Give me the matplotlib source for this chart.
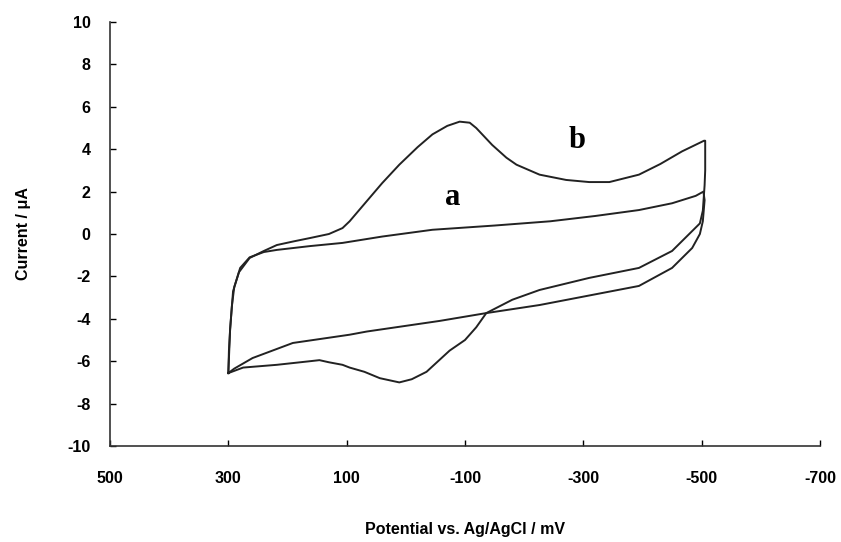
import matplotlib.pyplot as plt

plt.rcParams['font.family'] = ['Liberation Sans', 'DejaVu Sans']
plt.rcParams['axes.unicode_minus'] = False

# curve a: bare electrode (potential in mV, current in uA)
a_pot = [300, 297, 292, 280, 264, 240, 218, 162, 107, 40, -45, -150, -244,
         -320, -394, -450, -490, -503, -505, -502, -497, -484, -450, -394,
         -310, -226, -136, -57, 66, 95, 191, 259, 290, 300]
a_cur = [-6.56, -4.5, -2.7, -1.6, -1.1, -0.85, -0.75, -0.57, -0.42, -0.12,
         0.2, 0.4, 0.6, 0.85, 1.13, 1.45, 1.8, 2.0, 1.6, 0.6, 0.0, -0.66,
         -1.6, -2.45, -2.9, -3.35, -3.73, -4.1, -4.6, -4.75, -5.14, -5.85,
         -6.35, -6.56]

# curve b: modified electrode
b_pot = [300, 299, 297, 294, 290, 282, 264, 240, 218, 190, 162, 130, 107, 95,
         66, 40, 11, -20, -45, -70, -91, -108, -119, -146, -170, -187, -226,
         -271, -310, -344, -394, -430, -467, -504, -506, -506, -505, -502,
         -497, -484, -450, -394, -310, -226, -180, -136, -119, -100, -74, -35,
         -10, 11, 44, 70, 95, 107, 130, 146, 162, 218, 275, 300]
b_cur = [-6.56, -5.5, -4.5, -3.4, -2.5, -1.8, -1.13, -0.8, -0.52, -0.35,
         -0.19, 0.0, 0.28, 0.6, 1.55, 2.4, 3.27, 4.1, 4.7, 5.1, 5.3, 5.25,
         5.0, 4.2, 3.6, 3.27, 2.8, 2.55, 2.45, 2.45, 2.8, 3.3, 3.9, 4.4, 4.4,
         3.0, 2.3, 1.1, 0.5, 0.14, -0.8, -1.6, -2.07, -2.64, -3.1, -3.73,
         -4.4, -5.0, -5.5, -6.5, -6.85, -7.0, -6.8, -6.5, -6.3, -6.17, -6.05,
         -5.95, -6.0, -6.17, -6.3, -6.56]

x_ticks = [500, 300, 100, -100, -300, -500, -700]
y_ticks = list(range(-10, 11, 2))

fig = plt.figure(figsize=(8.41, 5.42), dpi=100)
ax = fig.add_axes([0.1308, 0.1771, 0.8442, 0.7823])

ax.plot(a_pot, a_cur, color='#222222', lw=1.4)
ax.plot(b_pot, b_cur, color='#222222', lw=1.4)

ax.set_xlim(500, -700)
ax.set_ylim(-10, 10)
ax.set_xticks(x_ticks)
ax.set_yticks(y_ticks)
ax.tick_params(direction='in', length=4, width=1, labelsize=11.5)
ax.tick_params(axis='x', pad=18)
ax.tick_params(axis='y', pad=14)
for lab in ax.get_xticklabels() + ax.get_yticklabels():
    lab.set_fontweight('bold')

for s in ['top', 'right']:
    ax.spines[s].set_visible(False)
for s in ['left', 'bottom']:
    ax.spines[s].set_color('#333333')
    ax.spines[s].set_linewidth(1.2)

ax.set_xlabel('Potential vs. Ag/AgCl / mV', fontsize=11.5, fontweight='bold', labelpad=26)
ax.set_ylabel('Current / μA', fontsize=11.5, fontweight='bold', labelpad=26)

ax.text(-79, 1.7, 'a', fontsize=22, fontweight='bold', family='Liberation Serif',
        ha='center', va='center')
ax.text(-290, 4.4, 'b', fontsize=22, fontweight='bold', family='Liberation Serif',
        ha='center', va='center')

plt.savefig('out.png', dpi=100)
